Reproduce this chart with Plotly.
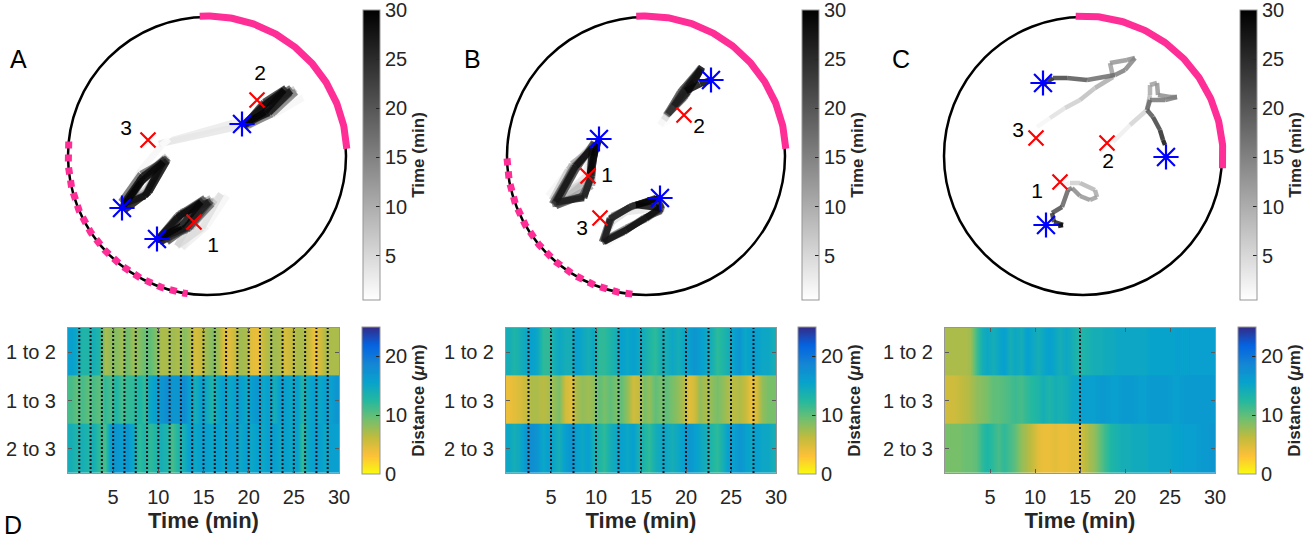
import numpy as np
import plotly.graph_objects as go
from plotly.colors import sample_colorscale

W, H = 1315, 539

# ---------------- trajectory data (circle radius = 139 units) ----------------
t_fine = [0, 0.625, 1.25, 1.875, 2.5, 3.125, 3.75, 4.375, 5, 5.625, 6.25, 6.875, 7.5, 8.125,
          8.75, 9.375, 10, 10.625, 11.25, 11.875, 12.5, 13.125, 13.75, 14.375, 15, 15.625,
          16.25, 16.875, 17.5, 18.125, 18.75, 19.375, 20, 20.625, 21.25, 21.875, 22.5, 23.125,
          23.75, 24.375, 25, 25.625, 26.25, 26.875, 27.5, 28.125, 28.75, 29.375, 30]

# Panel A
a1_x = [-13, 5, 20, 0, -25, -8, 14, -5, -30, -12, 8, -16, -44, -24, 4, -14, -38, -26, 6, -18, -48, -28, 0, -16, -42,
        -24, 5, -20, -50, -30, -2, -18, -40, -26, 4, -18, -47, -28, -4, -20, -46, -26, 2, -22, -50, -30, -6, -26, -50]
a1_y = [-66, -50, -40, -70, -92, -64, -38, -72, -90, -58, -44, -72, -84, -58, -42, -70, -82, -56, -46, -72, -86, -58, -44, -70, -80,
        -56, -48, -74, -84, -60, -42, -70, -86, -58, -45, -72, -82, -60, -44, -72, -86, -58, -46, -72, -84, -62, -46, -70, -84]
a2_x = [52, 75, 96, 68, 26, -48, 30, 66, 40, 58, 88, 67, 39, 57, 86, 64, 41, 60, 85, 66, 38, 58, 89, 65, 42,
        56, 84, 64, 38, 55, 80, 62, 37, 58, 83, 65, 40, 57, 79, 63, 38, 60, 84, 62, 38, 56, 77, 58, 36]
a2_y = [54, 58, 58, 42, 33, 12, 29, 44, 29, 53, 67, 43, 30, 51, 62, 44, 33, 55, 66, 45, 29, 50, 64, 42, 31,
        52, 68, 46, 32, 50, 66, 44, 30, 52, 63, 46, 34, 54, 68, 45, 31, 53, 65, 43, 33, 50, 66, 44, 31]
a3_x = [-40, -38, -46, -66, -82, -58, -42, -66, -80, -60, -40, -62, -84, -62, -44, -66, -82, -58, -40, -64, -84, -62, -42, -64, -80,
        -58, -39, -66, -86, -62, -45, -64, -84, -58, -40, -64, -84, -60, -42, -66, -82, -58, -40, -64, -84, -62, -44, -66, -85]
a3_y = [20, 17, 10, -14, -44, -36, -4, -18, -50, -32, 0, -18, -46, -40, -6, -22, -48, -34, -4, -20, -50, -38, -2, -22, -52,
        -36, -3, -18, -46, -40, -8, -24, -52, -36, -2, -20, -50, -38, -3, -22, -54, -36, -5, -20, -48, -40, -6, -26, -52]

# Panel B
b1_x = [-58, -78, -98, -76, -55, -60, -90, -74, -54, -58, -94, -78, -52, -56, -88, -74, -53, -54, -90, -70, -50, -56, -62, -92, -74,
        -52, -54, -62, -94, -72, -50, -55, -64, -90, -70, -52, -54, -62, -92, -72, -50, -55, -62, -90, -70, -54, -56, -52, -47]
b1_y = [-20, -28, -40, -12, 10, -20, -46, -10, 6, -24, -44, -14, 12, -22, -48, -8, 8, -30, -50, -12, 12, -20, -40, -46, -14,
        10, -18, -40, -48, -10, 12, -22, -40, -50, -14, 14, -20, -40, -48, -12, 12, -20, -42, -46, -10, 8, -18, 0, 17]
b2_x = [38, 24, 14, 32, 50, 30, 18, 36, 54, 36, 20, 34, 52, 38, 22, 36, 56, 40, 24, 36, 53, 38, 20, 36, 55,
        40, 22, 34, 52, 38, 21, 36, 56, 40, 25, 38, 54, 38, 22, 38, 56, 42, 28, 42, 55, 48, 40, 54, 65]
b2_y = [41, 36, 31, 60, 80, 52, 36, 64, 86, 58, 40, 64, 84, 58, 42, 66, 88, 60, 44, 66, 85, 60, 41, 66, 89,
        62, 43, 64, 82, 58, 41, 66, 88, 62, 46, 66, 86, 60, 42, 66, 89, 64, 50, 70, 87, 74, 65, 72, 76]
b3_x = [-46, -44, -40, -14, 18, -2, -20, -34, -42, -20, 0, 16, 10, -14, -34, -44, -22, -2, 16, 12, -12, -34, -42, -20, 0,
        16, 10, -16, -36, -44, -22, -2, 15, 12, -14, -34, -43, -20, -1, 16, 10, -16, -36, -42, -20, 0, 14, -10, 14]
b3_y = [-62, -76, -88, -70, -52, -54, -56, -66, -84, -74, -62, -50, -43, -50, -62, -86, -74, -62, -54, -42, -50, -60, -84, -72, -63,
        -52, -44, -51, -62, -86, -76, -62, -55, -43, -50, -62, -85, -74, -62, -53, -42, -51, -63, -86, -74, -62, -52, -49, -42]

# Panel C
c1_t = [0, 4, 8, 10, 11, 12, 13, 15, 17, 20, 22, 25, 28, 30]
c1_x = [-19, -13, -3, 12, 14, 7, -3, -11, -15, -21, -31, -29, -20, -25]
c1_y = [-29, -27, -27, -34, -41, -44, -40, -32, -34, -51, -57, -66, -69, -70]
c2_t = [0, 1, 4, 7, 10, 11, 12, 13, 14, 15, 16, 17, 19, 21, 24, 27, 30]
c2_x = [24, 30, 47, 64, 67, 67, 74, 75, 87, 94, 82, 67, 64, 70, 77, 80, 82]
c2_y = [13, 14, 31, 46, 61, 71, 73, 61, 59, 59, 56, 56, 46, 39, 26, 16, 11]
c3_t = [0, 3, 5, 7, 9, 11, 12, 13, 14, 15, 16, 19, 21, 24, 28, 30]
c3_x = [-46, -33, -18, -3, 12, 30, 27, 44, 52, 42, 32, 4, -16, -30, -38, -40]
c3_y = [29, 38, 48, 56, 68, 79, 93, 96, 98, 86, 81, 76, 78, 78, 73, 71]

# start (x) / end (asterisk) / labels per panel: cells 1,2,3
start_x = {"A": [-13, 50, -59], "B": [-58, 38, -46], "C": [-23, 24, -47]}
start_y = {"A": [-66, 56, 16], "B": [-20, 41, -62], "C": [-26, 13, 18]}
end_x = {"A": [-50, 35, -85], "B": [-47, 65, 14], "C": [-37, 83, -40]}
end_y = {"A": [-83, 32, -52], "B": [17, 76, -42], "C": [-69, -1, 73]}
lab_x = {"A": [6, 53, -81], "B": [-39, 53, -64], "C": [-46, 25, -65]}
lab_y = {"A": [-91, 81, 26], "B": [-21, 28, -74], "C": [-37, -7, 24]}
cell_labels = ["1", "2", "3"]

# stimulus arcs (degrees)
solid_arc = {"A": (3, 93), "B": (3, 94), "C": (-5, 93)}
dashed_arc = {"A": (174, 262), "B": (181, 266)}

# ---------------- heatmap data ----------------
hm_time = [0.31, 0.94, 1.56, 2.19, 2.81, 3.44, 4.06, 4.69, 5.31, 5.94, 6.56, 7.19,
           7.81, 8.44, 9.06, 9.69, 10.31, 10.94, 11.56, 12.19, 12.81, 13.44, 14.06, 14.69,
           15.31, 15.94, 16.56, 17.19, 17.81, 18.44, 19.06, 19.69, 20.31, 20.94, 21.56, 22.19,
           22.81, 23.44, 24.06, 24.69, 25.31, 25.94, 26.56, 27.19, 27.81, 28.44, 29.06, 29.69]
pair_labels = ["1 to 2", "1 to 3", "2 to 3"]

dA_12 = [16, 15, 13, 13, 14, 13, 7, 8, 8.5, 7.5, 9.5, 7.5, 8.5, 9.5, 10, 8.5, 7, 7, 7.5, 7, 8.5, 7.5, 5, 6,
         7.5, 8.5, 7.5, 5, 4.5, 6, 7.5, 7, 4.5, 4, 6, 7, 7.5, 7, 5, 6, 7, 7, 6, 4, 5, 7, 7, 7]
dA_13 = [11, 10, 11, 10, 11, 10, 12, 11, 13, 11, 12, 12, 13, 12, 15, 16, 17, 18, 17, 17, 18, 16, 14, 16,
         15, 13, 15, 16, 15, 16, 16, 15, 16, 17, 15, 16, 14, 16, 16, 15, 16, 13, 15, 16, 15, 16, 16, 17]
dA_23 = [14, 13, 14, 13, 14, 12, 11, 16, 17, 16, 17, 15, 12, 13, 12, 13, 14, 13, 11, 13, 14, 16, 15, 16,
         16, 15, 16, 15, 16, 16, 15, 16, 15, 16, 15, 16, 16, 15, 16, 15, 16, 12, 15, 16, 16, 15, 16, 16]

dB_12 = [14, 13, 14, 15, 16, 15, 12, 12, 14, 15, 14, 14, 16, 15, 14, 15, 12, 12, 13, 14, 16, 15, 16, 15,
         14, 13, 12, 14, 14, 15, 14, 15, 16, 17, 16, 15, 14, 12, 13, 14, 16, 17, 15, 16, 16, 15, 15, 14]
dB_13 = [4, 4.5, 5, 6, 7, 7, 6.5, 7, 8, 9, 5.5, 4.5, 7, 8, 7.5, 8, 10, 9, 10, 9, 10, 8, 5.5, 6,
         9, 8, 10, 9, 10, 9, 8, 7, 4.5, 5.5, 8, 7, 8, 9, 8, 7, 6.5, 7, 6, 4, 5, 8, 9, 9]
dB_23 = [15, 14, 15, 17, 18, 17, 15, 16, 15, 14, 16, 17, 16, 15, 16, 14, 13, 12, 14, 15, 16, 15, 16, 14,
         13, 12, 14, 15, 15, 14, 15, 16, 17, 16, 15, 14, 13, 12, 14, 16, 16, 17, 16, 15, 16, 15, 15, 14]

dC_12 = [7, 7, 7, 7, 7.5, 11, 14, 15, 14, 15, 16, 14, 15, 14, 16, 15, 14, 15, 16, 15, 14, 15, 14, 13,
         13, 13.5, 14, 14, 14.5, 14.5, 15, 15, 15, 15, 15, 15, 15.5, 15.5, 15.5, 15.5, 15.5, 16, 15.5, 16, 16, 16, 16, 16]
dC_13 = [5.5, 5.5, 6, 6.5, 7, 8, 8.5, 9, 10, 10, 10.5, 11, 11.5, 11, 12, 12.5, 13, 14, 13, 14, 13.5, 14, 15, 15,
         16, 16, 16, 16.5, 16.5, 16, 16, 16.5, 16.5, 16.5, 16, 16, 16.5, 16.5, 16.5, 16.5, 16, 16, 16.5, 16.5, 16.5, 16.5, 16.5, 16.5]
dC_23 = [9, 9, 9, 9.5, 9.5, 10, 12, 13, 12, 11, 12, 11, 10, 8, 7, 6, 4.5, 4, 4, 4.5, 4, 4, 4.5, 4.5,
         6, 7, 8, 10, 11.5, 13, 13.5, 14, 14, 14.5, 14.5, 14.5, 15, 15, 15, 15, 15.5, 15.5, 16, 16, 16, 16.5, 16.5, 17]

stim_lines = {
    "A": [1.25, 2.5, 3.75, 5, 6.25, 7.5, 8.75, 10, 11.25, 12.5, 13.75, 15, 16.25, 17.5,
          18.75, 20, 21.25, 22.5, 23.75, 25, 26.25, 27.5, 28.75],
    "B": [2.5, 5, 7.5, 10, 12.5, 15, 17.5, 20, 22.5, 25, 27.5],
    "C": [15],
}
x_ticks = [5, 10, 15, 20, 25, 30]
time_ticks = [5, 10, 15, 20, 25, 30]
dist_ticks = [0, 10, 20]

# ---------------- styles ----------------
FONT = "Liberation Sans, Arial, sans-serif"
TXT = "rgb(38,38,38)"
PINK = "rgb(255,45,150)"
gray_scale = [[0, "rgb(255,255,255)"], [1, "rgb(0,0,0)"]]
parula = [[0.0, "rgb(53,42,135)"], [0.125, "rgb(5,99,225)"], [0.25, "rgb(20,133,212)"],
          [0.375, "rgb(7,162,205)"], [0.5, "rgb(35,184,160)"], [0.625, "rgb(110,191,112)"],
          [0.75, "rgb(192,187,62)"], [0.875, "rgb(253,192,56)"], [1.0, "rgb(249,251,14)"]]
T_MIN, T_MAX = 0.5, 30
D_MIN, D_MAX = 0, 25

fig = go.Figure()

centers = {"A": (207, 156), "B": (646, 156), "C": (1083, 156)}
hm_dom = {"A": (68, 339), "B": (506, 776), "C": (945, 1215)}
cb_top_x = {"A": 363, "B": 802, "C": 1240}
cb_bot_x = {"A": 362, "B": 798, "C": 1238}
traj_width = {"A": 6.5, "B": 6.5, "C": 4.5}
panels = ["A", "B", "C"]
layout_axes = {}


def fx(p):
    return p / W


def fy(p):
    return 1 - p / H


trajs = {
    "A": [(t_fine, a1_x, a1_y), (t_fine, a2_x, a2_y), (t_fine, a3_x, a3_y)],
    "B": [(t_fine, b1_x, b1_y), (t_fine, b2_x, b2_y), (t_fine, b3_x, b3_y)],
    "C": [(c1_t, c1_x, c1_y), (c2_t, c2_x, c2_y), (c3_t, c3_x, c3_y)],
}
heat = {"A": [dA_12, dA_13, dA_23], "B": [dB_12, dB_13, dB_23], "C": [dC_12, dC_13, dC_23]}

shapes = []
annotations = []
for i, p in enumerate(panels):
    xa_top, ya_top = f"x{i+1}", f"y{i+1}"
    xa_bot, ya_bot = f"x{i+4}", f"y{i+4}"
    cx, cy = centers[p]
    R = 139
    layout_axes[f"xaxis{i+1}"] = dict(domain=[fx(cx - 150), fx(cx + 150)], range=[-150, 150],
                                      visible=False, anchor=ya_top, fixedrange=True)
    layout_axes[f"yaxis{i+1}"] = dict(domain=[fy(cy + 150), fy(cy - 150)], range=[-150, 150],
                                      visible=False, anchor=xa_top, fixedrange=True)
    shapes.append(dict(type="circle", xref=xa_top, yref=ya_top, x0=-R, x1=R, y0=-R, y1=R,
                       line=dict(color="black", width=2.5), layer="below"))
    # stimulus arcs
    a0, a1 = solid_arc[p]
    ang = np.radians(np.linspace(a0, a1, 150))
    fig.add_trace(go.Scatter(x=140 * np.cos(ang), y=140 * np.sin(ang), mode="lines",
                             line=dict(color=PINK, width=7), xaxis=xa_top, yaxis=ya_top,
                             hoverinfo="skip", showlegend=False))
    if p in dashed_arc:
        a0, a1 = dashed_arc[p]
        ang = np.radians(np.linspace(a0, a1, 150))
        fig.add_trace(go.Scatter(x=139 * np.cos(ang), y=139 * np.sin(ang), mode="lines",
                                 line=dict(color=PINK, width=7, dash="7px,6px"), xaxis=xa_top, yaxis=ya_top,
                                 hoverinfo="skip", showlegend=False))
    # trajectories as time-coloured segments
    for ts, xs, ys in trajs[p]:
        for k in range(len(xs) - 1):
            tm = 0.5 * (ts[k] + ts[k + 1])
            nv = min(1, max(0, (tm - T_MIN) / (T_MAX - T_MIN)))
            col = sample_colorscale(gray_scale, [nv])[0]
            fig.add_trace(go.Scatter(x=[xs[k], xs[k + 1]], y=[ys[k], ys[k + 1]], mode="lines",
                                     line=dict(color=col, width=traj_width[p]), opacity=0.85,
                                     xaxis=xa_top, yaxis=ya_top, hoverinfo="skip", showlegend=False))
    # start / end markers and labels
    fig.add_trace(go.Scatter(x=start_x[p], y=start_y[p], mode="markers",
                             marker=dict(symbol="x-thin", size=15, line=dict(color="red", width=2.2)),
                             xaxis=xa_top, yaxis=ya_top, hoverinfo="skip", showlegend=False))
    fig.add_trace(go.Scatter(x=end_x[p], y=end_y[p], mode="markers",
                             marker=dict(symbol="asterisk", size=21, line=dict(color="blue", width=2.2)),
                             xaxis=xa_top, yaxis=ya_top, hoverinfo="skip", showlegend=False))
    fig.add_trace(go.Scatter(x=lab_x[p], y=lab_y[p], mode="text", text=cell_labels,
                             textfont=dict(family=FONT, size=21, color="black"),
                             xaxis=xa_top, yaxis=ya_top, hoverinfo="skip", showlegend=False))
    # time colorbar
    fig.add_trace(go.Scatter(x=[None], y=[None], mode="markers", xaxis=xa_top, yaxis=ya_top,
                             marker=dict(color=[T_MIN], cmin=T_MIN, cmax=T_MAX, colorscale=gray_scale,
                                         showscale=True,
                                         colorbar=dict(x=fx(cb_top_x[p]), xanchor="left", xpad=0,
                                                       y=fy(10), yanchor="top", ypad=0,
                                                       len=290, lenmode="pixels", thickness=17,
                                                       outlinecolor="rgb(150,150,150)", outlinewidth=1,
                                                       ticks="inside", ticklen=4, tickcolor=TXT,
                                                       tickvals=time_ticks, ticklabeloverflow="allow",
                                                       tickfont=dict(family=FONT, size=20, color=TXT),
                                                       title=dict(text="<b>Time (min)</b>", side="right",
                                                                  font=dict(family=FONT, size=17, color=TXT)))),
                             hoverinfo="skip", showlegend=False))

    # ---------- heatmap ----------
    x0, x1 = hm_dom[p]
    layout_axes[f"xaxis{i+4}"] = dict(domain=[fx(x0), fx(x1)], range=[0, 30], anchor=ya_bot,
                                      tickvals=x_ticks, ticks="inside", ticklen=4, tickcolor="rgb(90,90,90)",
                                      showline=True, mirror="ticks", linecolor="rgb(150,150,150)", linewidth=1,
                                      showgrid=False, zeroline=False, ticklabelstandoff=6,
                                      tickfont=dict(family=FONT, size=20, color=TXT),
                                      title=dict(text="<b>Time (min)</b>", standoff=4,
                                                 font=dict(family=FONT, size=22, color=TXT)),
                                      automargin=False, fixedrange=True, layer="above traces")
    layout_axes[f"yaxis{i+4}"] = dict(domain=[fy(473), fy(328)], range=[-0.5, 2.5], anchor=xa_bot,
                                      tickvals=[2, 1, 0], ticktext=pair_labels, ticks="inside", ticklen=4,
                                      tickcolor="rgb(90,90,90)", showline=True, mirror="ticks",
                                      linecolor="rgb(150,150,150)", linewidth=1, showgrid=False,
                                      zeroline=False, ticklabelstandoff=7,
                                      tickfont=dict(family=FONT, size=20, color=TXT),
                                      automargin=False, fixedrange=True, layer="above traces")
    rows = heat[p]
    for r, vals in enumerate(rows):
        show = r == 0
        fig.add_trace(go.Heatmap(x=hm_time, y0=2 - r, dy=1.04, z=[vals], zmin=D_MIN, zmax=D_MAX,
                                 colorscale=parula, reversescale=True, zsmooth="best",
                                 showscale=show, xaxis=xa_bot, yaxis=ya_bot, hoverinfo="skip",
                                 colorbar=dict(x=fx(cb_bot_x[p]), xanchor="left", xpad=0,
                                               y=fy(327), yanchor="top", ypad=0,
                                               len=147, lenmode="pixels", thickness=18,
                                               outlinecolor="rgb(150,150,150)", outlinewidth=1,
                                               ticks="inside", ticklen=4, tickcolor=TXT,
                                               tickvals=dist_ticks, ticklabeloverflow="allow",
                                               tickfont=dict(family=FONT, size=20, color=TXT),
                                               title=dict(text="<b>Distance (</b><b><i>μ</i></b><b>m)</b>",
                                                          side="right",
                                                          font=dict(family=FONT, size=17, color=TXT)))))
    lx, ly = [], []
    for t in stim_lines[p]:
        lx += [t, t, None]
        ly += [-0.5, 2.5, None]
    fig.add_trace(go.Scatter(x=lx, y=ly, mode="lines", line=dict(color="rgb(20,20,30)", width=2, dash="2px,2px"),
                             xaxis=xa_bot, yaxis=ya_bot, hoverinfo="skip", showlegend=False))

for letter, (xp, yp) in {"A": (18, 59), "B": (472, 59), "C": (901, 59), "D": (13, 525)}.items():
    annotations.append(dict(text=letter, x=fx(xp), y=fy(yp), xref="paper", yref="paper",
                            showarrow=False, xanchor="center", yanchor="middle",
                            font=dict(family=FONT, size=25, color="black")))

fig.update_layout(width=W, height=H, autosize=False, margin=dict(l=0, r=0, t=0, b=0),
                  plot_bgcolor="white", paper_bgcolor="white", showlegend=False,
                  shapes=shapes, annotations=annotations, **layout_axes)
fig.write_html("out.html", config={"displayModeBar": False, "staticPlot": True},
               post_script="document.body.style.margin='0';document.body.style.overflow='hidden';")
